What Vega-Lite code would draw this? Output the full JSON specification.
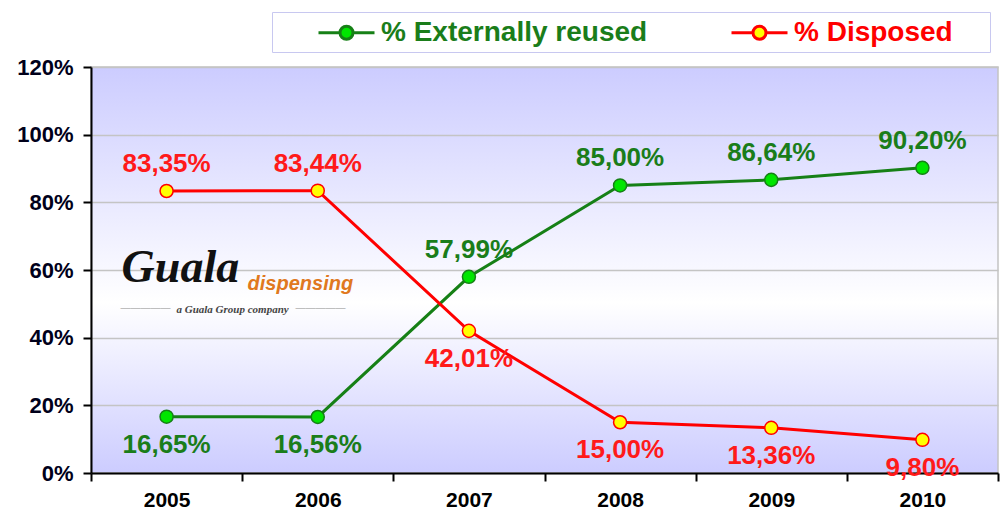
{
  "$schema": "https://vega.github.io/schema/vega-lite/v6.json",
  "width": 907,
  "height": 406,
  "autosize": {"type": "none"},
  "padding": {"left": 91, "top": 67, "right": 4, "bottom": 39},
  "background": "white",
  "config": {
    "font": "Liberation Sans",
    "view": {
      "stroke": "#c4c4c4",
      "strokeWidth": 1.5,
      "fill": {
        "gradient": "linear", "x1": 0, "y1": 0, "x2": 0, "y2": 1,
        "stops": [
          {"offset": 0, "color": "#ccccff"},
          {"offset": 0.58, "color": "#ffffff"},
          {"offset": 1, "color": "#ccccff"}
        ]
      }
    }
  },
  "data": {
    "values": [
      {"year": "2005", "series": "% Externally reused", "value": 16.65},
      {"year": "2006", "series": "% Externally reused", "value": 16.56},
      {"year": "2007", "series": "% Externally reused", "value": 57.99},
      {"year": "2008", "series": "% Externally reused", "value": 85.00},
      {"year": "2009", "series": "% Externally reused", "value": 86.64},
      {"year": "2010", "series": "% Externally reused", "value": 90.20},
      {"year": "2005", "series": "% Disposed", "value": 83.35},
      {"year": "2006", "series": "% Disposed", "value": 83.44},
      {"year": "2007", "series": "% Disposed", "value": 42.01},
      {"year": "2008", "series": "% Disposed", "value": 15.00},
      {"year": "2009", "series": "% Disposed", "value": 13.36},
      {"year": "2010", "series": "% Disposed", "value": 9.80}
    ]
  },
  "encoding": {
    "x": {
      "field": "year", "type": "ordinal", "bandPosition": 0.5,
      "scale": {"type": "band", "paddingInner": 0, "paddingOuter": 0},
      "axis": {
        "title": null, "labelAngle": 0, "labelFont": "Liberation Sans", "labelFontSize": 21,
        "labelFontWeight": "bold", "labelColor": "#000000", "labelPadding": 8,
        "tickBand": "extent", "tickSize": 8, "tickColor": "#000000", "tickWidth": 2,
        "domainColor": "#000000", "domainWidth": 2, "grid": false
      }
    },
    "y": {
      "field": "value", "type": "quantitative",
      "scale": {"domain": [0, 120], "nice": false},
      "axis": {
        "title": null, "values": [0, 20, 40, 60, 80, 100, 120],
        "labelExpr": "datum.value + '%'", "labelFont": "Liberation Sans", "labelFontSize": 22,
        "labelFontWeight": "bold", "labelColor": "#00001a", "labelPadding": 10,
        "tickSize": 8, "tickColor": "#000000", "tickWidth": 2,
        "domainColor": "#000000", "domainWidth": 2,
        "gridColor": "#c4c4c4", "gridWidth": 1.5
      }
    }
  },
  "layer": [
    {
      "mark": {"type": "line", "strokeWidth": 3},
      "encoding": {
        "stroke": {
          "field": "series", "type": "nominal",
          "scale": {"domain": ["% Externally reused", "% Disposed"], "range": ["#168016", "#ff0000"]},
          "legend": {
            "orient": "none", "legendX": 181, "legendY": -55, "direction": "horizontal",
            "title": ".", "titleOrient": "right", "titlePadding": 30, "titleFontSize": 6,
            "titleColor": "rgba(255,255,255,0)", "padding": 5,
            "symbolType": "M-1,0H0.536M1.464,0H3M1.464,0A0.464,0.464 0 1,1 0.536,0A0.464,0.464 0 1,1 1.464,0Z",
            "symbolSize": 784, "symbolStrokeWidth": 3, "symbolOffset": 40,
            "labelOffset": 33, "labelFont": "Liberation Sans", "labelFontSize": 28,
            "labelFontWeight": "bold", "labelLimit": 0, "columnPadding": 42,
            "fillColor": "#ffffff", "strokeColor": "#c8c8f0",
            "encode": {
              "labels": {"update": {"fill": {"signal": "datum.value === '% Disposed' ? '#ff0000' : '#1a7d1a'"}}},
              "symbols": {"update": {"fill": {"signal": "datum.value === '% Disposed' ? '#ffff00' : '#00e600'"}, "fillOpacity": {"value": 1}}}
            }
          }
        }
      }
    },
    {
      "mark": {"type": "point", "shape": "circle", "filled": true, "size": 170, "strokeWidth": 1.5, "opacity": 1},
      "encoding": {
        "stroke": {"field": "series", "type": "nominal", "legend": null},
        "fill": {
          "field": "series", "type": "nominal",
          "scale": {"domain": ["% Externally reused", "% Disposed"], "range": ["#00e600", "#ffff00"]},
          "legend": null
        }
      }
    },
    {
      "transform": [
        {"filter": "datum.value > 50"},
        {"calculate": "replace(format(datum.value, '.2f'), '.', ',') + '%'", "as": "label"}
      ],
      "mark": {"type": "text", "baseline": "middle", "dy": -27, "font": "Liberation Sans", "fontSize": 26, "fontWeight": "bold"},
      "encoding": {
        "text": {"field": "label"},
        "color": {
          "field": "series", "type": "nominal",
          "scale": {"domain": ["% Externally reused", "% Disposed"], "range": ["#1a7d1a", "#ff1a1a"]},
          "legend": null
        }
      }
    },
    {
      "transform": [
        {"filter": "datum.value <= 50"},
        {"calculate": "replace(format(datum.value, '.2f'), '.', ',') + '%'", "as": "label"}
      ],
      "mark": {"type": "text", "baseline": "middle", "dy": 28, "font": "Liberation Sans", "fontSize": 26, "fontWeight": "bold"},
      "encoding": {
        "text": {"field": "label"},
        "color": {"field": "series", "type": "nominal", "legend": null}
      }
    },
    {
      "transform": [{"filter": "datum.year === '2005' && datum.series === '% Disposed'"}],
      "mark": {"type": "text", "align": "left", "baseline": "alphabetic", "dx": -45, "font": "Liberation Serif", "fontStyle": "italic", "fontWeight": "bold", "fontSize": 46, "fill": "#111111", "text": "Guala"},
      "encoding": {
        "y": {"datum": 56.4, "type": "quantitative"}
      }
    },
    {
      "transform": [{"filter": "datum.year === '2005' && datum.series === '% Disposed'"}],
      "mark": {"type": "text", "align": "left", "baseline": "alphabetic", "dx": 81, "font": "Liberation Sans", "fontStyle": "italic", "fontWeight": "bold", "fontSize": 20, "fill": "#e07820", "text": "dispensing"},
      "encoding": {
        "y": {"datum": 54.2, "type": "quantitative"}
      }
    },
    {
      "transform": [{"filter": "datum.year === '2005' && datum.series === '% Disposed'"}],
      "mark": {"type": "text", "align": "center", "baseline": "alphabetic", "dx": 66, "font": "Liberation Serif", "fontStyle": "italic", "fontWeight": "bold", "fontSize": 11, "fill": "#444444", "text": "a Guala Group company"},
      "encoding": {
        "y": {"datum": 47.4, "type": "quantitative"}
      }
    },
    {
      "transform": [{"filter": "datum.year === '2005' && datum.series === '% Disposed'"}],
      "mark": {"type": "text", "align": "right", "baseline": "alphabetic", "dx": 4, "font": "Liberation Sans", "fontSize": 10, "fill": "#b0b0b0", "text": "—————"},
      "encoding": {
        "y": {"datum": 47.9, "type": "quantitative"}
      }
    },
    {
      "transform": [{"filter": "datum.year === '2005' && datum.series === '% Disposed'"}],
      "mark": {"type": "text", "align": "left", "baseline": "alphabetic", "dx": 129, "font": "Liberation Sans", "fontSize": 10, "fill": "#b0b0b0", "text": "—————"},
      "encoding": {
        "y": {"datum": 47.9, "type": "quantitative"}
      }
    }
  ]
}
